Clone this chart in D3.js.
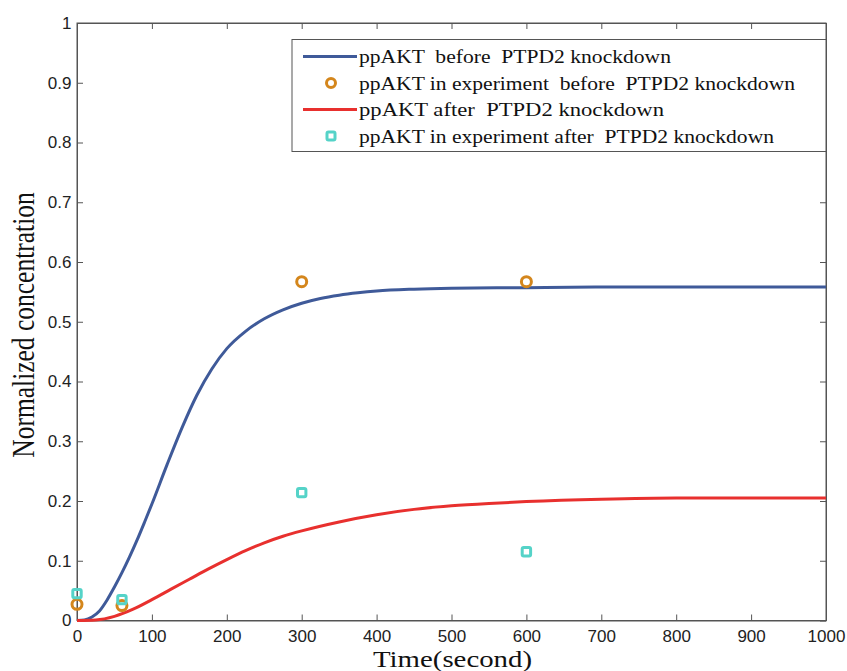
<!DOCTYPE html>
<html>
<head>
<meta charset="utf-8">
<script src="https://cdn.jsdelivr.net/npm/d3@7"></script>
<style>
  html, body { margin: 0; padding: 0; background: #fff; }
  svg { display: block; }
</style>
</head>
<body>
<svg id="chart" width="847" height="671"></svg>
<script>
// ---- data ----
const blueTime = [0, 10, 20, 30, 40, 50, 60, 70, 80, 90, 100, 120, 140, 160, 180, 200, 225, 250, 275, 300, 325, 350, 375, 400, 450, 500, 600, 700, 800, 900, 1000];
const blueValues = [0, 0.001, 0.006, 0.016, 0.034, 0.056, 0.08, 0.106, 0.134, 0.164, 0.195, 0.26, 0.322, 0.377, 0.421, 0.455, 0.484, 0.505, 0.52, 0.531, 0.539, 0.5445, 0.5485, 0.5515, 0.5545, 0.556, 0.557, 0.558, 0.558, 0.558, 0.558];
const redTime = [0, 25, 50, 75, 100, 125, 150, 175, 200, 225, 250, 275, 300, 350, 400, 450, 500, 550, 600, 700, 800, 900, 1000];
const redValues = [0, 0.001, 0.007, 0.019, 0.035, 0.052, 0.069, 0.086, 0.102, 0.117, 0.13, 0.141, 0.15, 0.165, 0.177, 0.186, 0.192, 0.196, 0.199, 0.203, 0.205, 0.205, 0.205];
const expTime = [0, 60, 300, 600];
const expBefore = [0.027, 0.025, 0.567, 0.567];
const expAfter = [0.045, 0.035, 0.214, 0.115];
const xTicks = [0, 100, 200, 300, 400, 500, 600, 700, 800, 900, 1000];
const yTicks = [0, 0.1, 0.2, 0.3, 0.4, 0.5, 0.6, 0.7, 0.8, 0.9, 1];
const legendLabels = [
  "ppAKT  before  PTPD2 knockdown",
  "ppAKT in experiment  before  PTPD2 knockdown",
  "ppAKT after  PTPD2 knockdown",
  "ppAKT in experiment after  PTPD2 knockdown"
];

// ---- layout / style ----
const colBlue = "#3f5a99", colRed = "#e8302e", colOrange = "#d4861c", colCyan = "#55d3c8";
const legendTextWidths = [312, 436, 305, 415];
const serif = "'Liberation Serif', 'Times New Roman', serif";

const svg = d3.select("#chart");
const L = 77, R = 826, T = 23, B = 620.5;
const x = d3.scaleLinear().domain([0, 1000]).range([L, R]);
const y = d3.scaleLinear().domain([0, 1]).range([B, T]);
const axisColor = "#555";

// frame
svg.append("rect").attr("x", L).attr("y", T).attr("width", R - L).attr("height", B - T)
  .attr("fill", "none").attr("stroke", axisColor).attr("stroke-width", 1);

const fmtY = d => d === 0 ? "0" : d === 1 ? "1" : d3.format(".1f")(d);
const tickFont = "'Liberation Sans', Arial, sans-serif";

const gx = svg.append("g").attr("transform", `translate(0,${B})`)
  .call(d3.axisBottom(x).tickValues(xTicks).tickSizeInner(-6).tickSizeOuter(0).tickPadding(9.5).tickFormat(d3.format("d")));
const gxt = svg.append("g").attr("transform", `translate(0,${T})`)
  .call(d3.axisTop(x).tickValues(xTicks).tickSizeInner(-6).tickSizeOuter(0).tickFormat(""));
const gy = svg.append("g").attr("transform", `translate(${L},0)`)
  .call(d3.axisLeft(y).tickValues(yTicks).tickSizeInner(-6).tickSizeOuter(0).tickPadding(5.5).tickFormat(fmtY));
const gyr = svg.append("g").attr("transform", `translate(${R},0)`)
  .call(d3.axisRight(y).tickValues(yTicks).tickSizeInner(-6).tickSizeOuter(0).tickFormat(""));

[gx, gxt, gy, gyr].forEach(g => {
  g.select(".domain").attr("stroke", axisColor);
  g.selectAll(".tick line").attr("stroke", axisColor);
  g.selectAll(".tick text").attr("fill", "#222").style("font-family", tickFont).style("font-size", "17px");
});

// lines
const line = d3.line().x(d => x(d[0])).y(d => y(d[1])).curve(d3.curveMonotoneX);
svg.append("path").datum(blueTime.map((t, i) => [t, blueValues[i]]))
  .attr("d", line).attr("fill", "none").attr("stroke", colBlue).attr("stroke-width", 3);
svg.append("path").datum(redTime.map((t, i) => [t, redValues[i]]))
  .attr("d", line).attr("fill", "none").attr("stroke", colRed).attr("stroke-width", 3);

// markers
svg.selectAll(".mo").data(expTime.map((t, i) => [t, expBefore[i]])).enter().append("circle")
  .attr("cx", d => x(d[0])).attr("cy", d => y(d[1])).attr("r", 5)
  .attr("fill", "none").attr("stroke", colOrange).attr("stroke-width", 3);
svg.selectAll(".mc").data(expTime.map((t, i) => [t, expAfter[i]])).enter().append("rect")
  .attr("x", d => x(d[0]) - 4.2).attr("y", d => y(d[1]) - 4.2).attr("width", 8.4).attr("height", 8.4).attr("rx", 1.5)
  .attr("fill", "none").attr("stroke", colCyan).attr("stroke-width", 3);

// legend
const lg = svg.append("g");
lg.append("rect").attr("x", 292).attr("y", 39.5).attr("width", R - 292).attr("height", 112)
  .attr("fill", "#fff").attr("stroke", axisColor).attr("stroke-width", 1);
const rowsY = [56.5, 83, 109.5, 136];
const kinds = ["line", "circle", "line", "square"];
const cols = [colBlue, colOrange, colRed, colCyan];
legendLabels.forEach((lab, i) => {
  const cy = rowsY[i];
  if (kinds[i] === "line") {
    lg.append("line").attr("x1", 303).attr("x2", 357).attr("y1", cy).attr("y2", cy)
      .attr("stroke", cols[i]).attr("stroke-width", 3);
  } else if (kinds[i] === "circle") {
    lg.append("circle").attr("cx", 331).attr("cy", cy).attr("r", 4.5)
      .attr("fill", "none").attr("stroke", cols[i]).attr("stroke-width", 3);
  } else {
    lg.append("rect").attr("x", 327).attr("y", cy - 4).attr("width", 8).attr("height", 8).attr("rx", 1.5)
      .attr("fill", "none").attr("stroke", cols[i]).attr("stroke-width", 3);
  }
  lg.append("text").attr("x", 359).attr("y", cy + 6.5)
    .attr("xml:space", "preserve").style("white-space", "pre")
    .attr("textLength", legendTextWidths[i]).attr("lengthAdjust", "spacingAndGlyphs")
    .style("font-family", serif).style("font-size", "19px")
    .attr("fill", "#111").text(lab);
});

// axis labels
svg.append("text").attr("x", 452.5 - 79.5).attr("y", 667)
  .attr("textLength", 159).attr("lengthAdjust", "spacingAndGlyphs")
  .style("font-family", serif).style("font-size", "23px")
  .attr("fill", "#111").text("Time(second)");
svg.append("text").attr("transform", `translate(34,325) scale(1.2,1) rotate(-90)`).attr("text-anchor", "middle")
  .style("font-family", serif).style("font-size", "25.5px")
  .attr("fill", "#111").text("Normalized concentration");
</script>
</body>
</html>
